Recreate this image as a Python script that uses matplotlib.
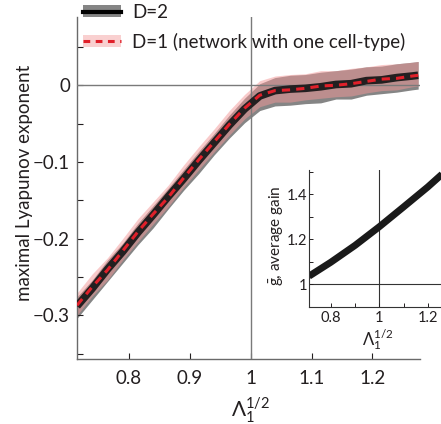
import numpy as np
import matplotlib
matplotlib.use("Agg")
import matplotlib.pyplot as plt
from matplotlib.patches import Patch
from matplotlib.lines import Line2D
from matplotlib.legend_handler import HandlerTuple

plt.rcParams['font.family'] = ['Lato', 'DejaVu Sans']
plt.rcParams['mathtext.fontset'] = 'custom'
plt.rcParams['mathtext.rm'] = 'Lato'
plt.rcParams['mathtext.it'] = 'Lato:italic'

# ---- data ----
lam = [0.715, 0.74, 0.765, 0.79, 0.815, 0.84, 0.865, 0.89, 0.915, 0.94, 0.965, 0.99,
       1.015, 1.04, 1.065, 1.09, 1.115, 1.14, 1.165, 1.19, 1.215, 1.24, 1.265, 1.275]
d2_mean = [-0.288, -0.265, -0.240, -0.217, -0.192, -0.169, -0.145, -0.122, -0.098, -0.075,
           -0.052, -0.031, -0.014, -0.007, -0.005, -0.004, -0.002, 0.001, 0.002, 0.006,
           0.007, 0.010, 0.012, 0.013]
d2_lo = [0.016, 0.015, 0.016, 0.015, 0.016, 0.017, 0.016, 0.015, 0.017, 0.016, 0.017, 0.018,
         0.019, 0.020, 0.021, 0.020, 0.021, 0.019, 0.020, 0.019, 0.018, 0.019, 0.018, 0.018]
d2_hi = [0.012, 0.011, 0.012, 0.011, 0.012, 0.012, 0.011, 0.012, 0.012, 0.012, 0.013, 0.014,
         0.016, 0.017, 0.018, 0.018, 0.019, 0.018, 0.019, 0.018, 0.018, 0.018, 0.018, 0.018]
d1_mean = [-0.287, -0.263, -0.241, -0.216, -0.191, -0.168, -0.146, -0.121, -0.097, -0.074,
           -0.051, -0.030, -0.013, -0.007, -0.006, -0.004, -0.001, 0.000, 0.002, 0.005,
           0.008, 0.009, 0.012, 0.013]
d1_lo = [0.013, 0.012, 0.013, 0.012, 0.013, 0.013, 0.012, 0.012, 0.013, 0.013, 0.014, 0.014,
         0.015, 0.015, 0.016, 0.015, 0.016, 0.015, 0.016, 0.015, 0.015, 0.015, 0.014, 0.014]
d1_hi = [0.016, 0.017, 0.016, 0.016, 0.017, 0.016, 0.016, 0.017, 0.017, 0.017, 0.018, 0.018,
         0.019, 0.019, 0.020, 0.019, 0.020, 0.019, 0.020, 0.019, 0.019, 0.019, 0.018, 0.018]

gain_lam = [0.71, 0.8, 0.9, 1.0, 1.1, 1.2, 1.26]
gain = [1.035, 1.097, 1.172, 1.255, 1.343, 1.432, 1.49]

main_xticks = [0.8, 0.9, 1.0, 1.1, 1.2]
main_xticklabels = ['0.8', '0.9', '1', '1.1', '1.2']
main_yticks = [0, -0.1, -0.2, -0.3]
main_yticklabels = ['0', '\u22120.1', '\u22120.2', '\u22120.3']
inset_xticks = [0.8, 1.0, 1.2]
inset_xticklabels = ['0.8', '1', '1.2']
inset_yticks = [1.0, 1.2, 1.4]
inset_yticklabels = ['1', '1.2', '1.4']

lam = np.array(lam); d2_mean = np.array(d2_mean); d1_mean = np.array(d1_mean)
d2_lo = np.array(d2_lo); d2_hi = np.array(d2_hi)
d1_lo = np.array(d1_lo); d1_hi = np.array(d1_hi)

W, H = 441, 424
fig = plt.figure(figsize=(W / 100, H / 100), dpi=100)

spine_c = '#6a6a6a'
txt_c = '#231f20'
gray_band = '#858585'
pink_band = (243 / 255, 151 / 255, 151 / 255)
black_c = '#231f20'
red_c = '#e0202a'

L, R, B, T = 77, 420, 359, 17
ax = fig.add_axes([L / W, 1 - B / H, (R - L) / W, (B - T) / H])
ax.fill_between(lam, d2_mean - d2_lo, d2_mean + d2_hi, color=gray_band, lw=0, zorder=1)
ax.fill_between(lam, d1_mean - d1_lo, d1_mean + d1_hi, color=pink_band, alpha=0.5, lw=0, zorder=2)
ax.axhline(0, color='#7a7a7a', lw=1.0, zorder=3)
ax.axvline(1.0, color='#7a7a7a', lw=1.0, zorder=3)
ax.plot(lam, d2_mean, color=black_c, lw=5.5, solid_capstyle='butt', zorder=4)
ax.plot(lam, d1_mean, color=red_c, lw=2.2, dashes=(2.7, 2.0), zorder=5)

ax.set_xlim(0.715, 1.278)
ax.set_ylim(-0.357, 0.089)
for s in ['top', 'right']:
    ax.spines[s].set_visible(False)
for s in ['left', 'bottom']:
    ax.spines[s].set_color(spine_c)
    ax.spines[s].set_linewidth(1.0)
ax.set_xticks(main_xticks)
ax.set_xticklabels(main_xticklabels)
ax.set_yticks(main_yticks)
ax.set_yticklabels(main_yticklabels)
ax.set_yticks([0.05, -0.05, -0.15, -0.25, -0.35], minor=True)
ax.set_xticks([], minor=True)
ax.tick_params(axis='both', which='both', direction='in', length=4, width=0.8,
               color=txt_c, labelsize=13.5, labelcolor=txt_c)
ax.tick_params(axis='x', which='both', pad=8)
ax.tick_params(axis='y', which='both', pad=5)
ax.set_ylabel('maximal Lyapunov exponent', fontsize=13.5, color=txt_c)
ax.yaxis.set_label_coords((33 - L) / (R - L), (B - 183) / (B - T))
ax.set_xlabel(r'$\Lambda_1^{1/2}$', fontsize=15, color=txt_c)
ax.xaxis.set_label_coords((251 - L) / (R - L), (B - 396) / (B - T))

# legend
h1 = (Patch(facecolor=gray_band, edgecolor='none'),
      Line2D([], [], color='black', lw=3.0))
h2 = (Patch(facecolor=pink_band, alpha=0.45, edgecolor='none'),
      Line2D([], [], color=red_c, lw=2.2, dashes=(2.2, 1.8)))
fig.legend([h1, h2], ['D=2', 'D=1 (network with one cell-type)'],
           handler_map={tuple: HandlerTuple(ndivide=1, pad=0)},
           loc='upper left', bbox_to_anchor=(83 / W, 1 - 4 / H),
           frameon=False, fontsize=13.5, handlelength=2.05, handleheight=0.6,
           handletextpad=0.55, labelspacing=0.62, borderpad=0, borderaxespad=0,
           labelcolor=txt_c)

# inset
iL, iR, iB, iT = 309, 441, 307, 170
ax2 = fig.add_axes([iL / W, 1 - iB / H, (iR - iL) / W, (iB - iT) / H])
ax2.axhline(1.0, color='#333333', lw=0.8, zorder=1)
ax2.axvline(1.0, color='#333333', lw=0.8, zorder=1)
ax2.plot(gain_lam, gain, color='#1a1a1a', lw=5.0, solid_capstyle='butt', zorder=2)
ax2.set_xlim(0.71, 1.254)
ax2.set_ylim(0.898, 1.507)
for s in ['top', 'right']:
    ax2.spines[s].set_visible(False)
for s in ['left', 'bottom']:
    ax2.spines[s].set_color('#333333')
    ax2.spines[s].set_linewidth(0.8)
ax2.set_xticks(inset_xticks)
ax2.set_xticklabels(inset_xticklabels)
ax2.set_yticks(inset_yticks)
ax2.set_yticklabels(inset_yticklabels)
ax2.set_xticks([0.9, 1.1], minor=True)
ax2.set_yticks([1.1, 1.3, 1.5], minor=True)
ax2.tick_params(axis='both', which='both', direction='in', length=3, width=0.7,
                color=txt_c, labelsize=10.5, labelcolor=txt_c)
ax2.tick_params(axis='x', which='both', pad=3)
ax2.tick_params(axis='y', which='both', pad=1.5)
ax2.set_ylabel(r'$\bar{\rm g}$, average gain', fontsize=11, color=txt_c)
ax2.yaxis.set_label_coords((285 - iL) / (iR - iL), (iB - 236) / (iB - iT))
ax2.set_xlabel(r'$\Lambda_1^{1/2}$', fontsize=12, color=txt_c)
ax2.xaxis.set_label_coords((378 - iL) / (iR - iL), (iB - 327) / (iB - iT))

fig.savefig('out.png', dpi=100)
